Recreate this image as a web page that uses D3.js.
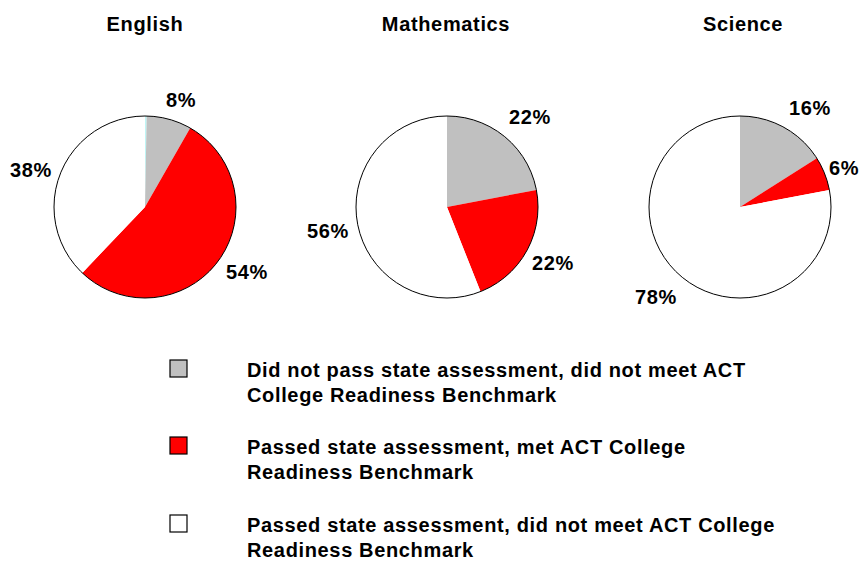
<!DOCTYPE html>
<html>
<head>
<meta charset="utf-8">
<script src="https://d3js.org/d3.v7.min.js"></script>
<style>
  body { margin: 0; background: #fff; }
  text { font-family: "Liberation Sans", Arial, sans-serif; font-weight: bold; fill: #000; letter-spacing: 0.65px; }
</style>
</head>
<body>
<script>
// data
const subjects = ["English", "Mathematics", "Science"];
const categories = [
  "Did not pass state assessment, did not meet ACT College Readiness Benchmark",
  "Passed state assessment, met ACT College Readiness Benchmark",
  "Passed state assessment, did not meet ACT College Readiness Benchmark"
];
const legendLines = [
  ["Did not pass state assessment, did not meet ACT", "College Readiness Benchmark"],
  ["Passed state assessment, met ACT College", "Readiness Benchmark"],
  ["Passed state assessment, did not meet ACT College", "Readiness Benchmark"]
];
const didNotPass = [8, 22, 16];
const passedMet = [54, 22, 6];
const passedNotMet = [38, 56, 78];
const sliver = [0.3, 0, 0]; // thin cyan edge seen in English pie

const colors = ["#c0c0c0", "#ff0000", "#ffffff"];
const sliverColor = "#bff5f5";

function createChart() {
  const width = 860, height = 562;
  const svg = d3.select("body").append("svg")
    .attr("width", width).attr("height", height);

  const centers = { English: 145, Mathematics: 447, Science: 740 };
  const titleX = { English: 145, Mathematics: 446, Science: 743 };
  const cy = 207, r = 91;

  // label positions: offsets from pie center
  const labelOffsets = [
    [[36, -107], [102, 65], [-114, -37]],
    [[83, -90], [106, 56], [-119, 24]],
    [[70, -99], [104, -39], [-84, 90]]
  ];

  const pie = d3.pie().sort(null).value(d => d.value);
  const arc = d3.arc().innerRadius(0).outerRadius(r);

  subjects.forEach((s, i) => {
    const cx = centers[s];
    const g = svg.append("g").attr("transform", `translate(${cx},${cy})`);
    const vals = [
      { key: "sliver", value: sliver[i] },
      { key: 0, value: didNotPass[i] },
      { key: 1, value: passedMet[i] },
      { key: 2, value: passedNotMet[i] }
    ];
    g.selectAll("path.slice")
      .data(pie(vals))
      .join("path")
      .attr("class", "slice")
      .attr("d", arc)
      .attr("fill", d => d.data.key === "sliver" ? sliverColor : colors[d.data.key])
      .attr("stroke", "none");
    g.append("circle").attr("r", r).attr("fill", "none")
      .attr("stroke", "#000").attr("stroke-width", 1);

    const labs = [didNotPass[i], passedMet[i], passedNotMet[i]];
    labs.forEach((v, k) => {
      g.append("text")
        .attr("x", labelOffsets[i][k][0])
        .attr("y", labelOffsets[i][k][1] + 7)
        .attr("text-anchor", "middle")
        .style("font-size", "20px")
        .text(v + "%");
    });

    svg.append("text")
      .attr("x", titleX[s])
      .attr("y", 31)
      .attr("text-anchor", "middle")
      .style("font-size", "20px")
      .text(s);
  });

  // legend
  const ly = [369, 446, 524];
  const legend = svg.append("g");
  categories.forEach((c, k) => {
    legend.append("rect")
      .attr("x", 170).attr("y", ly[k] - 9)
      .attr("width", 17).attr("height", 17)
      .attr("fill", colors[k])
      .attr("stroke", "#000").attr("stroke-width", 1.2);
    const t = legend.append("text")
      .attr("x", 247).attr("y", ly[k] + 8)
      .style("font-size", "20px");
    legendLines[k].forEach((line, j) => {
      t.append("tspan").attr("x", 247).attr("dy", j === 0 ? 0 : 25).text(line);
    });
  });
}

document.addEventListener("DOMContentLoaded", createChart);
</script>
</body>
</html>
